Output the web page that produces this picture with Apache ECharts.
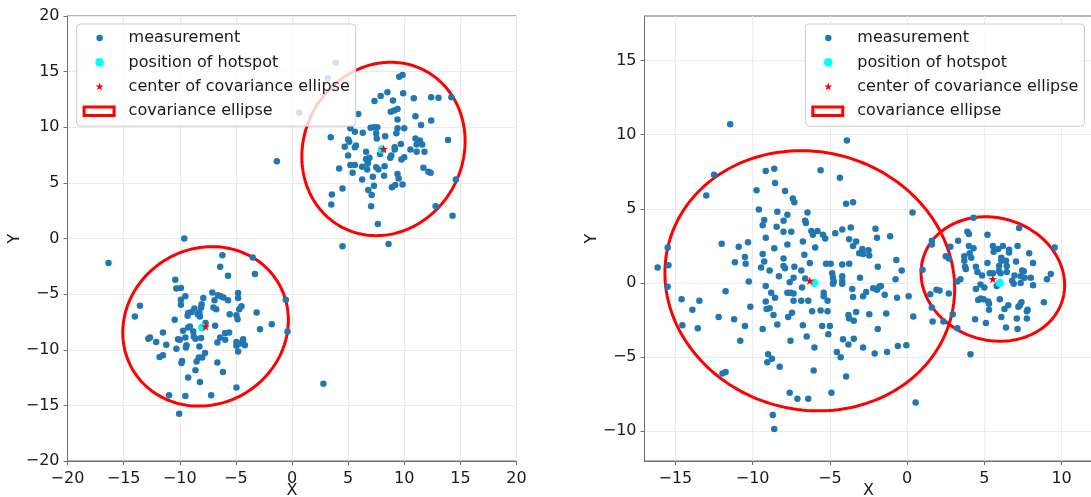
<!DOCTYPE html>
<html>
<head>
<meta charset="utf-8">
<script src="https://cdn.jsdelivr.net/npm/echarts@6/dist/echarts.min.js"></script>
<style>
html, body { margin: 0; padding: 0; background: #ffffff; }
#chart { width: 1091px; height: 497px; }
</style>
</head>
<body>
<div id="chart"></div>
<script>
// ---- Left panel: two hotspots at (8, 8) and (-8, -8) ----
const leftMeasurementsA = [
  [3.9,15.8],[3.2,14.4],[0.65,11.3],
  [9.55,14.55],[9.85,14.7],[8.5,13.15],[7.9,12.8],[7.35,12.35],[9.0,12.4],[9.9,13.05],[10.85,12.6],[12.4,12.7],[13.05,12.65],[14.2,12.7],
  [5.9,11.2],[8.8,11.4],[9.1,11.5],[9.4,11.65],[11.0,11.0],[12.4,10.6],[9.4,10.7],
  [5.2,9.9],[5.6,9.6],[6.3,9.5],[7.0,9.95],[7.3,10.0],[7.6,10.0],[7.5,9.45],[7.55,9.0],[8.3,9.2],[9.4,9.9],[10.0,9.9],[9.3,9.45],[11.5,10.2],
  [3.45,9.1],[5.0,8.9],[5.1,8.7],[4.7,8.25],[5.6,8.2],[5.7,8.35],[6.6,7.8],[6.9,7.25],[6.6,7.15],[6.75,6.85],[7.85,7.6],[8.85,7.45],[8.75,7.25],
  [9.15,8.2],[9.15,8.0],[9.7,8.5],[10.0,7.3],[9.75,7.1],[10.55,8.0],[11.1,8.45],[11.1,7.8],[11.0,9.0],[11.4,8.8],[11.6,8.45],[11.8,7.8],[13.9,8.85],
  [5.0,7.45],[4.2,6.3],[5.2,6.6],[5.6,6.6],[6.25,6.45],[6.7,6.2],[6.75,6.75],[7.5,6.4],[7.7,6.2],[8.25,6.5],[5.4,5.9],[6.25,5.3],[7.2,5.55],
  [8.2,5.65],[9.4,5.8],[9.5,5.4],[8.9,4.6],[9.2,4.8],[9.85,4.85],[11.7,6.35],[12.15,6.0],[12.35,5.9],
  [6.8,4.35],[7.3,4.75],[7.1,3.9],[4.5,4.5],[3.55,3.95],[3.5,3.05],[7.05,2.9],[7.65,1.3],[12.8,2.9],[14.3,2.05],[14.6,5.3],
  [4.5,-0.7],[8.6,-0.5],[-1.35,6.95]
];
const leftMeasurementsB = [
  [-16.35,-2.2],[-9.6,0.0],[-6.2,-1.5],[-3.5,-1.7],[-6.4,-2.55],[-3.3,-3.2],[-5.7,-3.35],[-10.4,-3.7],[-10.3,-4.5],[-9.9,-4.45],
  [-9.5,-5.2],[-9.9,-5.5],[-9.9,-5.95],[-13.55,-6.05],[-14.0,-7.0],[-7.9,-5.35],[-7.1,-4.85],[-6.9,-5.55],[-6.6,-5.1],[-6.35,-5.2],
  [-6.1,-5.3],[-5.7,-5.55],[-4.8,-4.9],[-4.8,-5.35],[-8.05,-5.9],[-8.1,-6.2],[-7.0,-6.2],[-6.75,-6.35],[-8.7,-6.3],[-8.95,-6.6],
  [-9.25,-6.7],[-8.25,-6.65],[-8.4,-6.8],[-9.3,-6.95],[-8.2,-7.0],[-7.7,-7.6],[-10.45,-7.3],[-9.25,-8.0],[-9.1,-7.9],[-9.7,-8.3],
  [-8.8,-8.35],[-6.85,-7.85],[-5.55,-6.8],[-4.95,-6.9],[-4.85,-7.25],[-4.7,-6.35],[-4.5,-6.1],[-3.15,-6.65],[-1.8,-7.7],[-2.85,-8.15],
  [-0.4,-8.35],[-0.55,-5.5],[-11.5,-8.45],[-12.65,-8.9],[-12.8,-9.0],[-12.1,-9.3],[-11.2,-9.55],[-10.15,-9.05],[-10.0,-9.1],[-9.5,-8.9],
  [-8.75,-8.8],[-8.6,-9.0],[-8.1,-8.95],[-10.3,-9.9],[-9.4,-9.6],[-9.45,-9.8],[-8.25,-9.7],[-6.65,-9.35],[-6.4,-8.9],[-5.95,-8.5],
  [-5.6,-8.45],[-5.95,-9.1],[-4.95,-9.3],[-4.95,-9.65],[-4.7,-9.45],[-4.35,-9.05],[-4.4,-9.35],[-4.2,-9.6],[-4.8,-10.15],[-11.8,-10.65],
  [-11.5,-10.5],[-9.8,-11.0],[-9.85,-11.2],[-8.5,-11.05],[-8.3,-10.7],[-8.0,-10.7],[-7.75,-10.3],[-6.65,-11.15],[-8.6,-11.85],[-6.15,-12.0],
  [-9.25,-12.5],[-8.2,-12.9],[-4.95,-13.4],[-10.95,-14.1],[-9.5,-14.15],[-7.2,-14.1],[-10.05,-15.75],[2.8,-13.05]
];
const leftHotspots = [[8, 8], [-8, -8]];
const leftCenters = [[8.15, 8.05], [-7.7, -7.9]];
// semi-major, semi-minor, rotation in degrees
const leftEllipseAxes = [[7.95, 7.1, 64], [7.57, 6.96, 35]];

// ---- Right panel: two hotspots at (-6, 0) and (6, 0) ----
const rightMeasurementsA = [
  [-11.45,10.7],[-3.9,9.6],[-12.5,7.3],[-13.0,5.9],[-8.6,7.7],[-9.15,7.55],[-8.55,6.75],[-9.75,6.25],[-7.9,6.2],[-5.6,7.6],[-4.35,7.1],
  [-3.95,5.35],[-3.5,5.45],[-7.4,5.7],[-7.3,5.45],[-9.6,4.95],[-8.4,4.8],[-7.75,4.6],[-6.45,4.75],[0.35,4.75],[-9.25,4.25],[-9.35,3.9],
  [-8.0,4.2],[-6.6,4.2],[-6.55,4.05],[-8.45,3.8],[-8.0,3.45],[-7.5,3.45],[-6.2,3.5],[-6.1,3.25],[-5.8,3.5],[-5.45,3.25],[-5.3,3.0],
  [-4.65,3.35],[-4.2,3.6],[-3.65,3.75],[-2.05,3.65],[-1.95,3.05],[-1.1,3.15],[-3.75,2.95],[-3.3,2.8],[-3.5,2.5],[-9.15,3.05],[-6.75,2.8],
  [-10.3,2.75],[-10.9,2.45],[-12.0,2.65],[-15.5,2.4],[-8.6,2.35],[-7.75,2.6],[-5.95,2.4],[-2.9,2.3],[-2.5,2.2],
  [-16.15,1.05],[-15.45,1.2],[-15.5,-0.25],[-14.6,-1.1],[-13.45,-1.2],[-13.9,-1.8],[-14.55,-2.85],[-13.55,-3.05],[-12.2,-2.3],[-11.75,-0.55],
  [-11.15,1.4],[-11.2,-2.45],[-10.5,-2.9],[-10.8,-3.9],[-10.5,1.75],[-10.45,1.3],[-10.25,0.1],[-10.15,-1.6],[-9.35,1.95],[-9.25,1.45],
  [-9.45,1.05],[-8.9,0.85],[-9.15,-0.2],[-9.15,-1.25],[-8.9,-1.7],[-9.1,-1.75],[-9.35,-3.1],[-8.8,-0.65],[-8.65,-2.15],[-8.55,-1.0],
  [-8.4,-2.8],[-8.3,0.45],[-8.0,1.15],[-7.9,1.0],[-8.0,1.65],[-7.75,-0.65],[-7.55,-0.65],[-7.6,0.05],[-7.3,1.1],[-7.35,0.35],
  [-7.35,-0.7],[-7.35,-1.2],[-7.7,-2.3],[-7.45,-2.0],[-7.55,-3.9],[-6.85,0.85],[-6.85,-1.2],[-6.8,-0.3],[-6.75,-2.85],[-6.5,-3.6],
  [-6.65,1.9],[-6.3,1.35],[-6.6,0.3],[-6.4,-1.2],[-6.15,-1.9],[-6.0,-4.35],[-6.05,-5.9],[-5.4,-0.65],[-5.4,-0.9],[-5.6,-1.85],
  [-5.15,-1.9],[-5.15,-1.2],[-5.25,1.3],[-4.95,1.3],[-5.5,-2.9],[-5.0,-2.9],[-5.1,-3.45],[-4.85,0.65],[-4.8,0.35],[-4.75,0.1],
  [-4.8,-0.05],[-4.2,1.25],[-4.2,0.45],[-4.2,0.15],[-4.2,-0.05],[-3.75,1.3],[-3.55,-0.4],[-3.5,-0.95],[-3.8,-2.15],[-3.75,-2.4],
  [-3.45,-2.55],[-3.3,-1.95],[-4.15,-3.8],[-3.8,-4.15],[-3.45,-3.75],[-2.85,-4.35],[-3.1,2.0],[-2.85,1.95],[-2.45,1.85],[-3.05,0.35],
  [-2.85,-0.9],[-2.65,-0.6],[-2.45,-2.1],[-2.2,-0.35],[-1.9,1.1],[-1.8,-0.25],[-1.7,-0.2],[-1.95,-0.45],[-1.9,-3.1],[-2.1,-4.75],
  [-1.45,-0.8],[-1.35,-2.05],[-1.3,-4.65],[-0.7,1.55],[-0.75,0.25],[-0.65,-1.0],[-0.6,-4.25],[-0.35,0.85],[-0.05,-4.2],[0.1,-0.9],
  [0.4,-2.25],[0.55,-8.05],[-4.9,-7.4],[-4.55,-4.65],[-3.95,-6.3],[-4.3,-5.0],[-7.6,-7.4],[-7.1,-7.8],[-6.4,-7.8],[-9.0,-4.8],
  [-8.75,-5.1],[-9.05,-5.35],[-8.25,-5.65],[-8.7,-8.9],[-8.6,-9.85],[-11.95,-6.1],[-11.75,-6.0]
];
const rightMeasurementsB = [
  [4.3,4.4],[3.3,2.85],[3.9,3.45],[4.0,3.3],[5.2,3.25],[5.55,2.5],[5.9,2.3],[6.2,2.5],[6.6,2.25],[7.15,2.5],[7.25,3.7],[9.55,2.4],
  [1.6,2.85],[1.6,2.6],[2.8,2.45],[4.0,2.5],[4.3,2.35],
  [1.0,0.9],[1.5,-0.75],[1.6,-1.65],[1.65,-2.6],[1.9,-0.45],[2.1,-0.5],[2.35,-2.6],[2.5,1.8],[2.7,1.65],[2.7,-0.7],[2.95,-2.1],
  [3.25,-3.05],[3.25,0.1],[3.45,0.25],[3.7,1.8],[3.7,1.5],[3.75,1.1],[3.8,0.95],[4.05,2.0],[4.15,1.7],[4.45,1.1],[4.55,0.75],
  [4.1,-4.8],[4.4,-2.45],[4.45,-0.4],[4.6,-1.15],[4.75,-1.05],[4.95,-1.1],[4.75,-0.1],[4.85,0.5],[5.0,-0.3],[5.1,-2.7],[5.2,1.35],
  [5.25,-1.25],[5.3,-1.4],[5.3,-1.8],[5.35,0.65],[5.55,0.65],[5.6,2.1],[5.8,-0.2],[5.95,1.15],[5.95,0.8],[6.0,-1.1],[6.1,1.7],
  [6.1,1.5],[6.05,0.65],[6.1,-2.3],[6.3,-1.75],[6.4,1.5],[6.4,-3.0],[6.45,1.15],[6.45,0.75],[6.55,-1.5],[6.6,2.05],[6.8,0.15],
  [6.9,-0.05],[6.95,0.5],[7.05,1.45],[7.1,-2.4],[7.15,-3.1],[7.2,-1.6],[7.3,-1.5],[7.35,0.45],[7.35,0.0],[7.4,-1.3],[7.45,0.85],
  [7.55,0.8],[7.6,0.35],[7.75,-1.9],[7.8,-1.8],[7.75,-2.4],[7.9,2.0],[8.0,0.35],[8.15,-0.15],[8.15,1.35],[8.85,-1.3],[9.05,0.25],[9.3,0.6]
];
const rightHotspots = [[-6, 0], [6, 0]];
const rightCenters = [[-6.3, 0.15], [5.55, 0.27]];
const rightEllipseAxes = [[9.48, 8.66, -21], [4.73, 4.1, -22]];

// ---- Axis ticks ----
const leftTicks = [-20, -15, -10, -5, 0, 5, 10, 15, 20];
const rightXTicks = [-15, -10, -5, 0, 5, 10];
const rightYTicks = [-10, -5, 0, 5, 10, 15];

const seriesNames = ['measurement', 'position of hotspot', 'center of covariance ellipse', 'covariance ellipse'];

// ---- Styling helpers ----
const FONT = 'DejaVu Sans';
const SPINE = '#6e6e6e';
const BLUE = '#1f77b4';

function starPath(cx, cy, R) {
  const r = R * 0.382;
  let d = '';
  for (let k = 0; k < 10; k++) {
    const ang = (-90 + k * 36) * Math.PI / 180;
    const rad = k % 2 ? r : R;
    d += (k ? 'L' : 'M') + (cx + rad * Math.cos(ang)).toFixed(2) + ' ' + (cy + rad * Math.sin(ang)).toFixed(2);
  }
  return d + 'Z';
}
function circlePath(cx, cy, r) {
  return 'M' + (cx + r) + ' ' + cy + 'A' + r + ' ' + r + ' 0 1 1 ' + (cx - r) + ' ' + cy +
         'A' + r + ' ' + r + ' 0 1 1 ' + (cx + r) + ' ' + cy + 'Z';
}
// legend icons share one 41x12 box so every marker keeps its own size
const ICON_W = 41, ICON_H = 12;
const iconFrame = 'M0 0M' + ICON_W + ' ' + ICON_H;
const legendIcons = [
  'path://' + iconFrame + circlePath(17, 6, 3.2),
  'path://' + iconFrame + circlePath(17, 6, 4.3),
  'path://' + iconFrame + starPath(17, 6, 4.2),
  'path://' + iconFrame + 'M0 0.3L33 0.3L33 11.7L0 11.7ZM3 3.3L3 8.7L30 8.7L30 3.3Z'
];
const legendColors = [BLUE, '#00ffff', '#ff0000', '#ff0000'];
const starSymbol = 'path://' + starPath(50, 50, 50);

const minusFmt = v => String(v).replace('-', '\u2212');

function makeAxis(gridIndex, min, max, ticks, name, isY) {
  return {
    type: 'value',
    gridIndex: gridIndex,
    min: min, max: max,
    interval: 5,
    name: name,
    nameLocation: 'middle',
    nameGap: isY ? 45 : 22,
    nameMoveOverlap: false,
    nameRotate: isY ? 90 : 0,
    nameTextStyle: { fontFamily: FONT, fontSize: 16, color: '#1a1a1a' },
    axisLine: { show: true, onZero: false, lineStyle: { color: SPINE, width: 1 } },
    axisTick: { show: true, inside: false, length: 4, customValues: ticks, lineStyle: { color: SPINE, width: 1 } },
    axisLabel: {
      show: true, customValues: ticks, margin: isY ? 8 : 10,
      fontFamily: FONT, fontSize: 16, color: '#1a1a1a',
      formatter: minusFmt
    },
    splitLine: { show: true, lineStyle: { color: '#ebebeb', width: 1 } }
  };
}

function ellipseData(centers, axes) {
  return centers.map((c, i) => [c[0], c[1], axes[i][0], axes[i][1], axes[i][2]]);
}

function renderEllipse(params, api) {
  const cx = api.value(0), cy = api.value(1);
  const a = api.value(2), b = api.value(3);
  const th = api.value(4) * Math.PI / 180;
  const pts = [];
  for (let i = 0; i <= 200; i++) {
    const t = i / 200 * 2 * Math.PI;
    const dx = a * Math.cos(t), dy = b * Math.sin(t);
    pts.push(api.coord([cx + dx * Math.cos(th) - dy * Math.sin(th),
                        cy + dx * Math.sin(th) + dy * Math.cos(th)]));
  }
  return {
    type: 'polygon',
    shape: { points: pts },
    style: { fill: 'none', stroke: '#ff0000', lineWidth: 3 }
  };
}

function panelSeries(axisIndex, measurements, hotspots, centers, axes) {
  return [
    {
      name: seriesNames[3], type: 'custom', xAxisIndex: axisIndex, yAxisIndex: axisIndex,
      renderItem: renderEllipse, encode: { x: 0, y: 1 },
      data: ellipseData(centers, axes), itemStyle: { color: '#ff0000' }, z: 2, silent: true
    },
    {
      name: seriesNames[0], type: 'scatter', xAxisIndex: axisIndex, yAxisIndex: axisIndex,
      data: measurements, symbol: 'circle', symbolSize: 6.5,
      itemStyle: { color: BLUE, opacity: 1 }, z: 3, silent: true
    },
    {
      name: seriesNames[1], type: 'scatter', xAxisIndex: axisIndex, yAxisIndex: axisIndex,
      data: hotspots, symbol: 'circle', symbolSize: 8.5,
      itemStyle: { color: '#00ffff', opacity: 1 }, z: 4, silent: true
    },
    {
      name: seriesNames[2], type: 'scatter', xAxisIndex: axisIndex, yAxisIndex: axisIndex,
      data: centers, symbol: starSymbol, symbolKeepAspect: true, symbolSize: 9,
      itemStyle: { color: '#ff0000', opacity: 1 }, z: 5, silent: true
    }
  ];
}

function makeLegend(left) {
  return {
    orient: 'vertical',
    left: left, top: 24,
    padding: [6, 6, 7, 6],
    itemWidth: ICON_W, itemHeight: ICON_H, itemGap: 8.4,
    backgroundColor: 'rgba(255,255,255,0.8)',
    borderColor: '#cccccc', borderWidth: 1, borderRadius: 4,
    selectedMode: false,
    z: 10,
    textStyle: { fontFamily: FONT, fontSize: 16, color: '#1a1a1a', lineHeight: 16 },
    data: seriesNames.map((n, i) => ({
      name: n, icon: legendIcons[i],
      itemStyle: { color: legendColors[i], borderWidth: 0, opacity: 1 }
    }))
  };
}

const gridBase = { show: true, borderColor: SPINE, borderWidth: 1, backgroundColor: '#ffffff', outerBoundsMode: 'none', containLabel: false };

const chart = echarts.init(document.getElementById('chart'), null, { renderer: 'canvas' });
chart.setOption({
  animation: false,
  backgroundColor: '#ffffff',
  grid: [
    Object.assign({ left: 67.5, top: 16, width: 449, height: 445 }, gridBase),
    Object.assign({ left: 644.5, top: 16, width: 448, height: 445 }, gridBase)
  ],
  xAxis: [
    makeAxis(0, -20, 20, leftTicks, 'X', false),
    makeAxis(1, -17, 12, rightXTicks, 'X', false)
  ],
  yAxis: [
    makeAxis(0, -20, 20, leftTicks, 'Y', true),
    makeAxis(1, -12, 18, rightYTicks, 'Y', true)
  ],
  legend: [makeLegend(76.6), makeLegend(805.3)],
  series: [
    ...panelSeries(0, leftMeasurementsA.concat(leftMeasurementsB), leftHotspots, leftCenters, leftEllipseAxes),
    ...panelSeries(1, rightMeasurementsA.concat(rightMeasurementsB), rightHotspots, rightCenters, rightEllipseAxes)
  ]
});
</script>
</body>
</html>
